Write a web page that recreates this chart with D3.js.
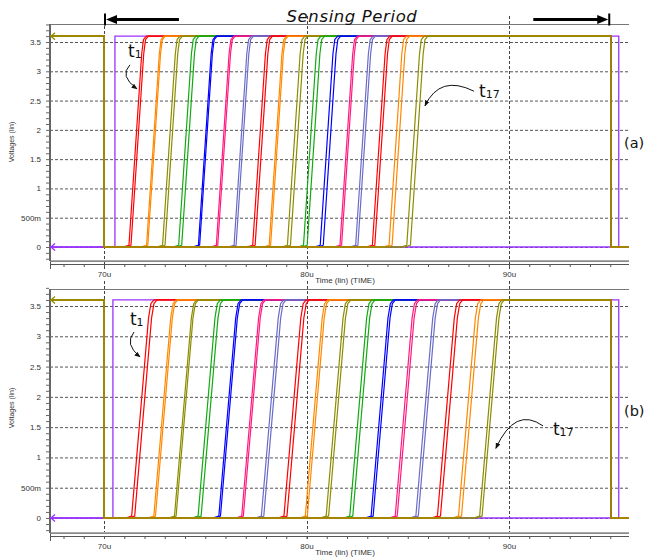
<!DOCTYPE html>
<html>
<head>
<meta charset="utf-8">
<script src="https://cdn.jsdelivr.net/npm/d3@7/dist/d3.min.js"></script>
<style>
body { margin: 0; background: #fff; }
svg { display: block; }
.lbl { font-family: "Liberation Sans", Arial, sans-serif; font-size: 8px; fill: #333; }
</style>
</head>
<body>
<div id="chart"></div>
<script>
// ---- data ----
var traceColors = ["#ff0000", "#ff8800", "#8c8c00", "#11aa11", "#0000ff", "#ff1a80", "#6b6bc8",
                   "#ff0000", "#ff8800", "#8c8c00", "#11aa11", "#0000ff", "#ff1a80", "#6b6bc8",
                   "#ff0000", "#ff8800", "#8c8c00"];
var traceNames = ["t1","t2","t3","t4","t5","t6","t7","t8","t9","t10","t11","t12","t13","t14","t15","t16","t17"];

// time (u) where each output crosses 2 V
var crossA = [71.66, 72.51, 73.33, 74.14, 75.07, 75.96, 76.85, 77.78, 78.57, 79.51, 80.32, 81.13, 82.07, 82.86, 83.69, 84.53, 85.42];
var crossB = [71.94, 73.00, 74.02, 75.22, 76.21, 77.34, 78.33, 79.46, 80.49, 81.53, 82.71, 83.74, 84.93, 85.96, 87.04, 88.08, 89.11];
// spread between the overlapping runs of one output (u)
var spreadA = [0.1, 0.06, 0.12, 0.15, 0.06, 0.07, 0.1, 0.12, 0.07, 0.15, 0.18, 0.15, 0.08, 0.11, 0.12, 0.15, 0.18];
var spreadB = [0.15, 0.08, 0.08, 0.15, 0.08, 0.08, 0.12, 0.15, 0.1, 0.12, 0.15, 0.1, 0.1, 0.12, 0.15, 0.15, 0.12];
var riseA = 0.74, riseB = 0.98;

var vLow = 0, vHigh = 3.6;
var resetEdgesA = [70.0, 95.02], resetEdgesB = [70.0, 95.02];   // outputs pulled low / released
var enableEdgesA = [70.54, 95.42], enableEdgesB = [70.44, 95.42];
var timeRange = [67.33, 95.93];
var sensingPeriod = [70.05, 94.95];
var sensingArrowTails = [73.7, 91.2];

var yTicks = [0, 0.5, 1, 1.5, 2, 2.5, 3, 3.5];
var yTickLabels = ["0", "500m", "1", "1.5", "2", "2.5", "3", "3.5"];
var xTicks = [70, 80, 90];
var xTickLabels = ["70u", "80u", "90u"];

var width = 646, height = 559;
var left = 50, right = 629;

var svg = d3.select("#chart").append("svg")
    .attr("width", width)
    .attr("height", height);

var defs = svg.append("defs");
defs.append("marker")
    .attr("id", "ah")
    .attr("viewBox", "0 0 10 10")
    .attr("refX", 9).attr("refY", 5)
    .attr("markerWidth", 6).attr("markerHeight", 6)
    .attr("orient", "auto")
    .append("path").attr("d", "M0,1 L10,5 L0,9 z").attr("fill", "#111");

var x = d3.scaleLinear().domain([70, 90]).range([104, 509]);

var panels = [
  { id: "a", top: 24, bottom: 260, axisY: 264, y0: 247, y35: 42, cross: crossA, spread: spreadA, rise: riseA,
    reset: resetEdgesA, enable: enableEdgesA, tag: "(a)", tagY: 148, titleY: 283, vTitleY: 142,
    notes: [ { txt: "t", sub: "1", t: 71.19, v: 3.24, arrow: [[71.28, 3.11], [70.74, 2.92], [71.63, 2.70]] },
             { txt: "t", sub: "17", t: 88.52, v: 2.56, arrow: [[88.27, 2.66], [86.59, 2.95], [85.85, 2.41]] } ] },
  { id: "b", top: 289, bottom: 532, axisY: 536, y0: 518, y35: 306, cross: crossB, spread: spreadB, rise: riseB,
    reset: resetEdgesB, enable: enableEdgesB, tag: "(b)", tagY: 416, titleY: 555, vTitleY: 408,
    notes: [ { txt: "t", sub: "1", t: 71.28, v: 3.19, arrow: [[71.48, 3.07], [70.99, 2.87], [71.78, 2.66]] },
             { txt: "t", sub: "17", t: 92.17, v: 1.37, arrow: [[91.68, 1.52], [90.30, 1.85], [89.35, 1.15]] } ] }
];

var line = d3.line()
    .x(function(d) { return x(d[0]); })
    .y(function(d) { return d.y; });

panels.forEach(function(p) {
  var y = d3.scaleLinear().domain([0, 3.5]).range([p.y0, p.y35]);
  var g = svg.append("g");

  g.append("clipPath").attr("id", "clip" + p.id)
    .append("rect").attr("x", left).attr("y", p.top - 4).attr("width", right - left).attr("height", p.bottom - p.top + 4);

  // horizontal grid
  g.selectAll(".hg").data(yTicks).enter().append("line")
    .attr("x1", left).attr("x2", right)
    .attr("y1", function(d) { return y(d) + 0.5; }).attr("y2", function(d) { return y(d) + 0.5; })
    .attr("stroke", "#555").attr("stroke-width", 1).attr("stroke-dasharray", "3,2");

  // vertical grid
  g.selectAll(".vg").data(xTicks).enter().append("line")
    .attr("x1", function(d) { return Math.round(x(d)) + 0.5; }).attr("x2", function(d) { return Math.round(x(d)) + 0.5; })
    .attr("y1", p.top - 8).attr("y2", p.axisY + 5)
    .attr("stroke", "#444").attr("stroke-width", 1).attr("stroke-dasharray", "3,2");

  // frame
  g.append("line").attr("x1", left).attr("x2", right).attr("y1", p.top + 0.5).attr("y2", p.top + 0.5)
    .attr("stroke", "#777").attr("stroke-width", 1.2);
  g.append("line").attr("x1", left).attr("x2", right).attr("y1", p.bottom + 0.5).attr("y2", p.bottom + 0.5)
    .attr("stroke", "#aaa").attr("stroke-width", 1);
  g.append("line").attr("x1", left).attr("x2", left).attr("y1", p.top).attr("y2", p.bottom + 1)
    .attr("stroke", "#666").attr("stroke-width", 2);

  // y minor ticks
  var yMinor = d3.axisLeft(y).tickValues(d3.range(-0.2, 3.81, 0.1)).tickSize(3).tickFormat("");
  g.append("g").attr("transform", "translate(" + (left - 1) + ",0)").call(yMinor)
    .call(function(s) { s.select(".domain").remove(); s.selectAll("line").attr("stroke", "#666"); });

  // y labels
  var yAxis = d3.axisLeft(y).tickValues(yTicks)
    .tickFormat(function(d, i) { return yTickLabels[i]; }).tickSize(0).tickPadding(9);
  g.append("g").attr("transform", "translate(" + left + ",0)").call(yAxis)
    .call(function(s) {
      s.select(".domain").remove();
      s.selectAll("text").attr("class", "lbl").attr("font-family", null).attr("font-size", null).attr("fill", null);
    });

  // x axis
  g.append("line").attr("x1", left).attr("x2", right).attr("y1", p.axisY - 2.5).attr("y2", p.axisY - 2.5)
    .attr("stroke", "#888").attr("stroke-width", 1);
  var xMinor = d3.axisBottom(x).tickValues(d3.range(68, 96)).tickSize(3).tickFormat("");
  g.append("g").attr("transform", "translate(0," + p.axisY + ")").call(xMinor)
    .call(function(s) {
      s.select(".domain").attr("stroke", "#555").attr("d", "M" + left + ",0.5H" + right);
      s.selectAll("line").attr("stroke", "#555");
    });
  g.append("line").attr("x1", left + 0.5).attr("x2", left + 0.5).attr("y1", p.axisY - 2).attr("y2", p.axisY + 5)
    .attr("stroke", "#555");
  var xAxis = d3.axisBottom(x).tickValues(xTicks)
    .tickFormat(function(d, i) { return xTickLabels[i]; }).tickSize(0).tickPadding(7);
  g.append("g").attr("transform", "translate(0," + p.axisY + ")").call(xAxis)
    .call(function(s) {
      s.select(".domain").remove();
      s.selectAll("text").attr("class", "lbl").attr("font-family", null).attr("font-size", null).attr("fill", null);
    });

  g.append("text").attr("class", "lbl").attr("x", 345).attr("y", p.titleY)
    .attr("text-anchor", "middle").text("Time (lin) (TIME)");
  g.append("text").attr("class", "lbl").style("font-size", "7px")
    .attr("transform", "translate(14," + p.vTitleY + ") rotate(-90)")
    .attr("text-anchor", "middle").text("Voltages (lin)");

  // ---- waveforms ----
  var plot = g.append("g").attr("clip-path", "url(#clip" + p.id + ")");
  function pts(arr) { return arr.map(function(d) { return { 0: d[0], y: y(d[1]) }; }); }

  // reference node held low
  plot.append("path")
    .attr("d", line(pts([[timeRange[0], vLow], [timeRange[1], vLow]])))
    .attr("fill", "none").attr("stroke", "#9933ff").attr("stroke-width", 1.3);
  // sense enable
  plot.append("path")
    .attr("d", line(pts([[timeRange[0], vLow], [p.enable[0], vLow], [p.enable[0], vHigh],
                         [p.enable[1], vHigh], [p.enable[1], vLow], [timeRange[1], vLow]])))
    .attr("fill", "none").attr("stroke", "#9933ff").attr("stroke-width", 1.3);

  // outputs t1..t17, two runs each
  p.cross.forEach(function(c, i) {
    var r = p.rise;
    [-0.5, 0.5].forEach(function(k) {
      var t0 = c + k * p.spread[i] - 0.51 * r;
      var wave = [[timeRange[0], vHigh], [p.reset[0], vHigh], [p.reset[0], vLow],
                  [t0 - 0.3, vLow], [t0, 0.03], [t0 + 0.85 * r, 3.3], [t0 + 0.97 * r, 3.54],
                  [t0 + r + 0.12, vHigh], [p.reset[1], vHigh], [p.reset[1], vLow], [timeRange[1], vLow]];
      plot.append("path")
        .attr("class", "trace " + traceNames[i])
        .attr("d", line(pts(wave)))
        .attr("fill", "none").attr("stroke", traceColors[i]).attr("stroke-width", 1.2)
        .attr("stroke-linejoin", "round");
    });
  });

  // left arrow heads of the two signals
  [[vLow, "#9933ff"], [vHigh, "#8c8c00"]].forEach(function(a) {
    var yy = y(a[0]);
    g.append("path").attr("d", "M" + (left + 5) + "," + (yy - 3.5) + "L" + (left + 1) + "," + yy + "L" + (left + 5) + "," + (yy + 3.5))
      .attr("fill", "none").attr("stroke", a[1]).attr("stroke-width", 1.3);
  });

  // annotations
  p.notes.forEach(function(n) {
    var tx = g.append("text").attr("x", x(n.t)).attr("y", y(n.v))
      .attr("font-family", "DejaVu Sans, sans-serif").attr("font-size", "17px").attr("fill", "#111");
    tx.append("tspan").text(n.txt);
    tx.append("tspan").attr("font-size", "11px").attr("dy", 1).text(n.sub);
    var a = n.arrow;
    g.append("path")
      .attr("d", "M" + x(a[0][0]) + "," + y(a[0][1]) + " Q" + x(a[1][0]) + "," + y(a[1][1]) + " " + x(a[2][0]) + "," + y(a[2][1]))
      .attr("fill", "none").attr("stroke", "#111").attr("stroke-width", 1)
      .attr("marker-end", "url(#ah)");
  });

  g.append("text").attr("x", 624).attr("y", p.tagY)
    .attr("font-family", "DejaVu Sans, sans-serif").attr("font-size", "14.5px").attr("fill", "#111")
    .text(p.tag);
});

// sensing period arrows
var sy = 19.5;
var header = svg.append("g");
header.append("text").attr("x", 352).attr("y", 22).attr("text-anchor", "middle")
  .attr("font-family", "DejaVu Sans, sans-serif").attr("font-style", "italic").attr("font-size", "16.5px")
  .attr("letter-spacing", "0.6px").attr("fill", "#111").text("Sensing Period");
[[sensingPeriod[0], sensingArrowTails[0]], [sensingPeriod[1], sensingArrowTails[1]]].forEach(function(s) {
  var tip = x(s[0]), tail = x(s[1]);
  var dir = tail > tip ? 1 : -1;
  header.append("line").attr("x1", tip).attr("x2", tip).attr("y1", sy - 6).attr("y2", sy + 6)
    .attr("stroke", "#000").attr("stroke-width", 2);
  header.append("line").attr("x1", tip + dir * 8).attr("x2", tail).attr("y1", sy).attr("y2", sy)
    .attr("stroke", "#000").attr("stroke-width", 3);
  header.append("path").attr("d", "M" + (tip + dir * 1) + "," + sy + "L" + (tip + dir * 12) + "," + (sy - 4.5) + "L" + (tip + dir * 12) + "," + (sy + 4.5) + "z")
    .attr("fill", "#000");
});
</script>
</body>
</html>
